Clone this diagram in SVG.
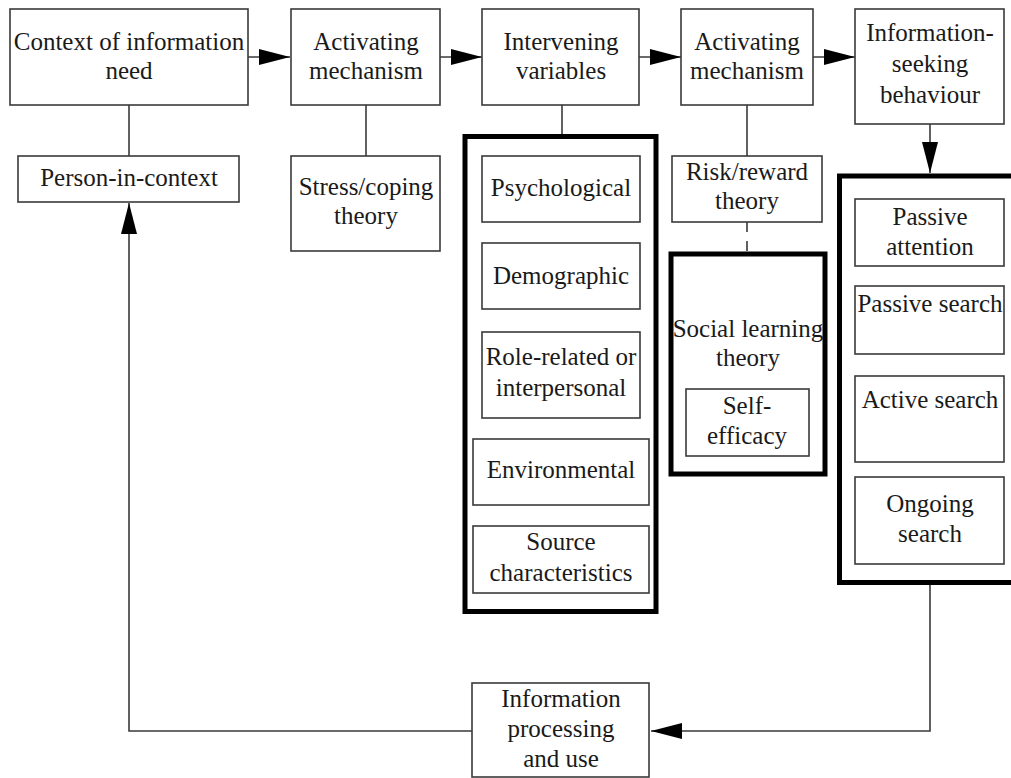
<svg xmlns="http://www.w3.org/2000/svg" width="1011" height="778" viewBox="0 0 1011 778">
<defs>
<style>
.bg{fill:#ffffff}
.box{fill:#ffffff;stroke:#3a3a3a;stroke-width:1.6}
.thick{fill:none;stroke:#000000;stroke-width:5}
.ln{fill:none;stroke:#3a3a3a;stroke-width:1.6}
.dash{stroke-dasharray:10 9}
text{font-family:"Liberation Serif","Times New Roman",serif;font-size:25px;fill:#1a1a1a;text-anchor:middle}
</style>
<marker id="arr" markerUnits="userSpaceOnUse" markerWidth="32" markerHeight="18" refX="31" refY="8" orient="auto">
<path d="M0,0 L31,8 L0,16 Z" fill="#000000"/>
</marker>
</defs>
<rect class="bg" x="0" y="0" width="1011" height="778"/>

<g id="connectors">
<line class="ln" x1="248" y1="57" x2="290" y2="57" marker-end="url(#arr)"/>
<line class="ln" x1="440" y1="57" x2="482" y2="57" marker-end="url(#arr)"/>
<line class="ln" x1="639" y1="57" x2="681" y2="57" marker-end="url(#arr)"/>
<line class="ln" x1="813" y1="57" x2="855" y2="57" marker-end="url(#arr)"/>
<line class="ln" x1="129" y1="105" x2="129" y2="156"/>
<line class="ln" x1="366" y1="105" x2="366" y2="156"/>
<line class="ln" x1="562" y1="105" x2="562" y2="134"/>
<line class="ln" x1="747" y1="105" x2="747" y2="156"/>
<line class="ln dash" x1="747" y1="222" x2="747" y2="252"/>
<line class="ln" x1="930" y1="124" x2="930" y2="173" marker-end="url(#arr)"/>
<polyline class="ln" points="930,585 930,731 651,731" marker-end="url(#arr)"/>
<polyline class="ln" points="472,731 129,731 129,203" marker-end="url(#arr)"/>
</g>

<g id="context">
<rect class="box" x="10" y="9" width="238" height="96"/>
<text x="129" y="50">Context of information</text>
<text x="129" y="79">need</text>
</g>
<g id="activating1">
<rect class="box" x="291" y="9" width="149" height="96"/>
<text x="366" y="50">Activating</text>
<text x="366" y="79">mechanism</text>
</g>
<g id="intervening">
<rect class="box" x="482" y="9" width="157" height="96"/>
<text x="561" y="50">Intervening</text>
<text x="561" y="79">variables</text>
</g>
<g id="activating2">
<rect class="box" x="681" y="9" width="132" height="96"/>
<text x="747" y="50">Activating</text>
<text x="747" y="79">mechanism</text>
</g>
<g id="infoseeking">
<rect class="box" x="855" y="9" width="149" height="115"/>
<text x="930" y="41">Information-</text>
<text x="930" y="72">seeking</text>
<text x="930" y="103">behaviour</text>
</g>
<g id="person">
<rect class="box" x="18" y="156" width="221" height="46"/>
<text x="129" y="186">Person-in-context</text>
</g>
<g id="stress">
<rect class="box" x="291" y="156" width="149" height="95"/>
<text x="366" y="195">Stress/coping</text>
<text x="366" y="224">theory</text>
</g>

<g id="intervening-group">
<rect class="thick" x="465" y="136.5" width="191" height="475"/>
</g>
<g id="psychological">
<rect class="box" x="482" y="156" width="158" height="66"/>
<text x="561" y="196">Psychological</text>
</g>
<g id="demographic">
<rect class="box" x="482" y="243" width="158" height="66"/>
<text x="561" y="284">Demographic</text>
</g>
<g id="role">
<rect class="box" x="482" y="332" width="158" height="86"/>
<text x="561" y="365">Role-related or</text>
<text x="561" y="396">interpersonal</text>
</g>
<g id="environmental">
<rect class="box" x="473" y="439" width="176" height="66"/>
<text x="561" y="478">Environmental</text>
</g>
<g id="source">
<rect class="box" x="473" y="526" width="176" height="67"/>
<text x="561" y="550">Source</text>
<text x="561" y="581">characteristics</text>
</g>

<g id="risk">
<rect class="box" x="672" y="156" width="150" height="66"/>
<text x="747" y="180">Risk/reward</text>
<text x="747" y="209">theory</text>
</g>
<g id="social">
<rect class="thick" x="671" y="254" width="154" height="220"/>
<text x="748" y="337">Social learning</text>
<text x="748" y="366">theory</text>
</g>
<g id="selfefficacy">
<rect class="box" x="686" y="389" width="123" height="67"/>
<text x="747" y="414">Self-</text>
<text x="747" y="444">efficacy</text>
</g>

<g id="behaviour-group">
<rect class="thick" x="839.5" y="176" width="200" height="406.5"/>
</g>
<g id="passiveattention">
<rect class="box" x="855" y="199" width="149" height="67"/>
<text x="930" y="225">Passive</text>
<text x="930" y="255">attention</text>
</g>
<g id="passivesearch">
<rect class="box" x="855" y="286" width="149" height="68"/>
<text x="930" y="312">Passive search</text>
</g>
<g id="activesearch">
<rect class="box" x="855" y="376" width="149" height="86"/>
<text x="930" y="408">Active search</text>
</g>
<g id="ongoing">
<rect class="box" x="855" y="477" width="149" height="87"/>
<text x="930" y="512">Ongoing</text>
<text x="930" y="542">search</text>
</g>

<g id="processing">
<rect class="box" x="472" y="683" width="177" height="94"/>
<text x="561" y="707">Information</text>
<text x="561" y="737">processing</text>
<text x="561" y="767">and use</text>
</g>
</svg>
